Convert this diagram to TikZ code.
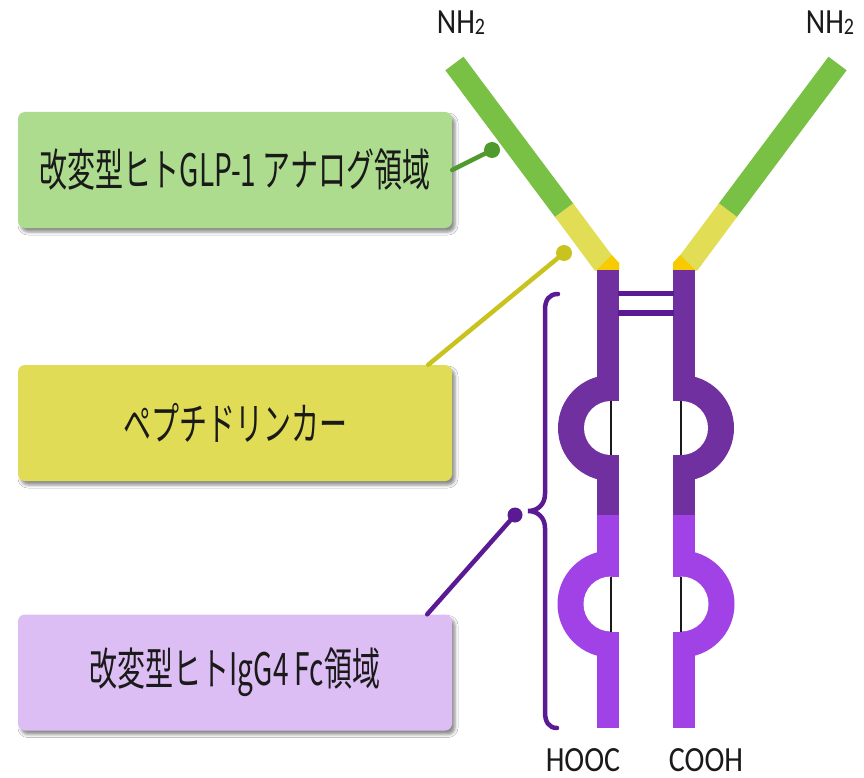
\documentclass[tikz,border=0pt]{standalone}
\usepackage{fontspec}
\setmainfont{Carlito}
\newfontfamily\jpfont{Noto Sans CJK JP}
\usetikzlibrary{shadows.blur}

\definecolor{armgreen}{HTML}{78C145}
\definecolor{armyellow}{HTML}{E1DD55}
\definecolor{hingegold}{HTML}{F7CB00}
\definecolor{fcdark}{HTML}{7030A0}
\definecolor{fclight}{HTML}{A142E6}
\definecolor{bondpurple}{HTML}{5A1A94}
\definecolor{gboxfill}{HTML}{ADDC8F}
\definecolor{gleadcol}{HTML}{4F9A2C}
\definecolor{yboxfill}{HTML}{E1DC55}
\definecolor{yleadcol}{HTML}{C9C320}
\definecolor{pboxfill}{HTML}{DDBEF4}
\definecolor{inkcol}{HTML}{1A1A1A}

% vertically stretched lettering
\newcommand\tallword[2]{\scalebox{1}[#1]{#2}}

% one heavy chain: linker arm, hinge stem and two loop domains
\newcommand\drawchain{%
  \fill[armgreen] (445.4,70.3) -- (463.5,56.7) -- (573.8,204.3) -- (555.7,217.9) -- cycle;
  \fill[armyellow] (555,216.9) -- (573.1,203.3) -- (611.7,255) -- (619,263)
      -- (619,270.5) -- (594.7,270.5) -- cycle;
  \fill[hingegold] (597,270) -- (611.7,255) -- (619,263) -- (619,270) -- cycle;
  \fill[fcdark] (597,270) rectangle (619,516);
  \fill[fclight] (597,515) rectangle (619,728);
  % upper loop
  \begin{scope}
    \clip (540,360) rectangle (612,500);
    \fill[fcdark] (611,428) circle (53pt);
  \end{scope}
  \begin{scope}
    \clip (570,390) rectangle (611,470);
    \fill[white] (611,428) circle (27pt);
  \end{scope}
  \fill[white] (610.5,401) rectangle (620,455);
  \draw[inkcol, line width=1.6pt] (611,401) -- (611,455);
  % lower loop
  \begin{scope}
    \clip (540,540) rectangle (612,670);
    \fill[fclight] (611,604) circle (53.5pt);
  \end{scope}
  \begin{scope}
    \clip (570,570) rectangle (611,640);
    \fill[white] (611,604) circle (27.5pt);
  \end{scope}
  \fill[white] (610.5,577) rectangle (620,632);
  \draw[inkcol, line width=1.6pt] (611,577) -- (611,632);
}

\begin{document}
\begin{tikzpicture}[x=1pt, y=-1pt,
  labelbox/.style={rounded corners=7pt, minimum width=434pt, minimum height=116pt,
    inner sep=0pt, text=inkcol, font=\jpfont\fontsize{28}{30}\selectfont,
    blur shadow={shadow xshift=3pt, shadow yshift=-4pt, shadow blur radius=3pt,
      shadow opacity=45}},
  endlabel/.style={inner sep=0pt, text=inkcol, font=\fontsize{30}{32}\selectfont},
  leadline/.style={line width=4.5pt, line cap=round},
]
\useasboundingbox (0,0) rectangle (864,778);
\fill[white] (0,0) rectangle (864,778);

% the two chains
\drawchain
\begin{scope}[xshift=1292pt, xscale=-1]
  \drawchain
\end{scope}

% inter-chain disulfide bonds
\fill[bondpurple] (618,290.5) rectangle (674,296);
\fill[bondpurple] (618,310) rectangle (674,316);

% terminal labels
\node[endlabel] (nleft) at (461,23) {\tallword{1.18}{NH\raisebox{-1pt}{\fontsize{20}{20}\selectfont 2}}};
\node[endlabel] (nright) at (830,23) {\tallword{1.18}{NH\raisebox{-1pt}{\fontsize{20}{20}\selectfont 2}}};
\node[endlabel] (cleft) at (583,760) {\tallword{1.18}{HOOC}};
\node[endlabel] (cright) at (706,760) {\tallword{1.18}{COOH}};

% region boxes
\node[labelbox, fill=gboxfill] (gbox) at (235,170) {\tallword{1.6}{改変型ヒトGLP-1 アナログ領域}};
\node[labelbox, fill=yboxfill] (ybox) at (235,423) {\tallword{1.6}{ペプチドリンカー}};
\node[labelbox, fill=pboxfill] (pbox) at (235,672.5) {\tallword{1.6}{改変型ヒトIgG4 Fc領域}};

% pointer ends on the molecule
\coordinate (gdot) at (492,150);
\coordinate (ydot) at (564,253);
\coordinate (pdot) at (515,515);

% Fc brace
\draw[bondpurple, line width=4.5pt, line cap=round]
  (558,294) .. controls (549,294) and (545,300) .. (545,310)
  -- (545,494) .. controls (545,504) and (538,511) .. (528,511)
  .. controls (538,511) and (545,518) .. (545,528)
  -- (545,712) .. controls (545,722) and (549,728) .. (557,728);

% pointer lines
\draw[leadline, gleadcol] (gbox.east) -- (gdot);
\fill[gleadcol] (gdot) circle (8pt);
\draw[leadline, yleadcol] ([xshift=-24pt]ybox.north east) -- (ydot);
\fill[yleadcol] (ydot) circle (8pt);
\draw[leadline, bondpurple] ([xshift=-25pt]pbox.north east) -- (pdot);
\fill[bondpurple] (pdot) circle (7.5pt);
\end{tikzpicture}
\end{document}
